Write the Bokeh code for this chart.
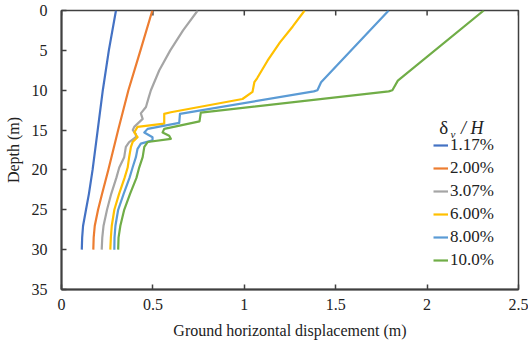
from bokeh.plotting import figure
from bokeh.models import Range1d, FixedTicker, Legend, LegendItem, Label
from bokeh.embed import file_html
from bokeh.resources import INLINE
import math

# ---- data: depth (m) and ground horizontal displacement (m) ----
depth_117 = [0, 5, 10, 15, 20, 23, 25, 27, 28.5, 30]
disp_117 = [0.298, 0.259, 0.226, 0.198, 0.170, 0.150, 0.134, 0.118, 0.113, 0.111]

depth_200 = [0, 5, 10, 15, 20, 23, 25, 27, 28.5, 30]
disp_200 = [0.497, 0.432, 0.366, 0.310, 0.256, 0.222, 0.200, 0.182, 0.176, 0.174]

depth_307 = [0, 2.5, 5, 7.5, 10, 11, 12.1, 12.9, 13.6, 14.6, 15.0, 15.5, 15.9, 16.5,
             17.1, 18.4, 19.7, 21, 23, 25, 27, 28.5, 30]
disp_307 = [0.745, 0.665, 0.595, 0.535, 0.489, 0.476, 0.462, 0.434, 0.444, 0.398, 0.390,
            0.407, 0.407, 0.370, 0.352, 0.343, 0.316, 0.300, 0.272, 0.249, 0.230, 0.223, 0.220]

depth_600 = [0, 2, 4, 6.3, 8.5, 9.0, 10.2, 11.1, 12.76, 12.96, 14.2, 14.6, 15.3, 15.9,
             16.5, 17.1, 18.4, 19.7, 21, 23, 25, 27, 28.5, 30]
disp_600 = [1.33, 1.265, 1.195, 1.127, 1.07, 1.055, 1.045, 0.99, 0.598, 0.562, 0.562, 0.416,
            0.398, 0.416, 0.389, 0.380, 0.370, 0.362, 0.345, 0.315, 0.289, 0.275, 0.270, 0.267]

depth_800 = [0, 9.0, 10.0, 10.15, 12.97, 14.1, 14.85, 15.3, 15.9, 16.3, 16.7, 17.35,
             18.4, 19.7, 21, 23, 25, 27, 28.5, 30]
disp_800 = [1.79, 1.42, 1.40, 1.38, 0.648, 0.644, 0.471, 0.453, 0.498, 0.498, 0.434, 0.416,
            0.407, 0.389, 0.372, 0.340, 0.310, 0.295, 0.290, 0.289]

depth_1000 = [0, 8.8, 10.0, 10.15, 12.8, 13.9, 14.85, 15.3, 15.7, 16.1, 16.5, 17.1,
              18.4, 19.7, 21, 23, 25, 27, 28.5, 30]
disp_1000 = [2.31, 1.84, 1.81, 1.79, 0.762, 0.755, 0.562, 0.553, 0.589, 0.598, 0.471, 0.453,
             0.444, 0.425, 0.410, 0.375, 0.343, 0.322, 0.312, 0.310]

labels = ["1.17%", "2.00%", "3.07%", "6.00%", "8.00%", "10.0%"]
colors = ["#4472C4", "#ED7D31", "#A5A5A5", "#FFC000", "#5B9BD5", "#70AD47"]
x_ticks = [0, 0.5, 1, 1.5, 2, 2.5]
x_tick_labels = ["0", "0.5", "1", "1.5", "2", "2.5"]
y_ticks = [0, 5, 10, 15, 20, 25, 30, 35]

series = [(disp_117, depth_117), (disp_200, depth_200), (disp_307, depth_307),
          (disp_600, depth_600), (disp_800, depth_800), (disp_1000, depth_1000)]

FONT = "Liberation Serif"
AX = "#404040"
TXT = "#222222"

p = figure(width=528, height=345, output_backend="svg", toolbar_location=None,
           x_range=Range1d(0, 2.5), y_range=Range1d(35, 0),
           min_border_left=61, min_border_right=10, min_border_top=10, min_border_bottom=56)
p.grid.visible = False
p.outline_line_color = AX
p.outline_line_width = 1.5
p.background_fill_color = "white"
p.border_fill_color = "white"

for ax in (p.xaxis[0], p.yaxis[0]):
    ax.axis_line_color = AX
    ax.axis_line_width = 2
    ax.major_tick_line_color = AX
    ax.major_tick_line_width = 1.5
    ax.major_tick_in = 5
    ax.major_tick_out = 0
    ax.minor_tick_line_color = None
    ax.major_label_text_font = FONT
    ax.major_label_text_font_size = "16px"
    ax.major_label_text_color = TXT
    ax.axis_label_text_font = FONT
    ax.axis_label_text_font_size = "16px"
    ax.axis_label_text_font_style = "normal"
    ax.axis_label_text_color = TXT

p.xaxis.ticker = FixedTicker(ticks=x_ticks)
p.xaxis.major_label_overrides = {t: s for t, s in zip(x_ticks, x_tick_labels)}
p.xaxis.axis_label = "Ground horizontal displacement (m)"
p.xaxis.major_label_standoff = 9
p.xaxis.axis_label_standoff = 9

p.yaxis.ticker = FixedTicker(ticks=y_ticks)
p.yaxis.axis_label = "Depth (m)"
p.yaxis.major_label_standoff = 14
p.yaxis.axis_label_standoff = 7

# inward tick marks along the top edge (at the x tick positions, at depth 0)
p.scatter(x_ticks, [y_ticks[0]] * len(x_ticks), marker="dash", angle=math.pi / 2,
          size=10, line_color=AX, line_width=1.5)

items = []
for (xs, ys), c, lab in zip(series, colors, labels):
    r = p.line(xs, ys, line_color=c, line_width=2.2, line_join="round")
    items.append(LegendItem(label=lab, renderers=[r]))

legend = Legend(items=items, location=(372, 19), orientation="vertical",
                label_text_font=FONT, label_text_font_size="17px", label_text_color=TXT,
                glyph_width=15, glyph_height=20, label_height=20, label_standoff=2,
                spacing=3, padding=0, margin=0, border_line_alpha=0, background_fill_alpha=0)
p.add_layout(legend, "center")

# legend title: delta_v / H
p.add_layout(Label(x=2.066, y=14.7, text="δ", text_font=FONT, text_font_size="19px",
                   text_baseline="alphabetic", text_color=TXT))
p.add_layout(Label(x=2.128, y=15.5, text="v", text_font=FONT, text_font_size="11px",
                   text_font_style="italic", text_baseline="alphabetic", text_color=TXT))
p.add_layout(Label(x=2.185, y=14.7, text="/ H", text_font=FONT, text_font_size="18px",
                   text_font_style="italic", text_baseline="alphabetic", text_color=TXT))

open("out.html", "w").write(file_html(p, INLINE))
